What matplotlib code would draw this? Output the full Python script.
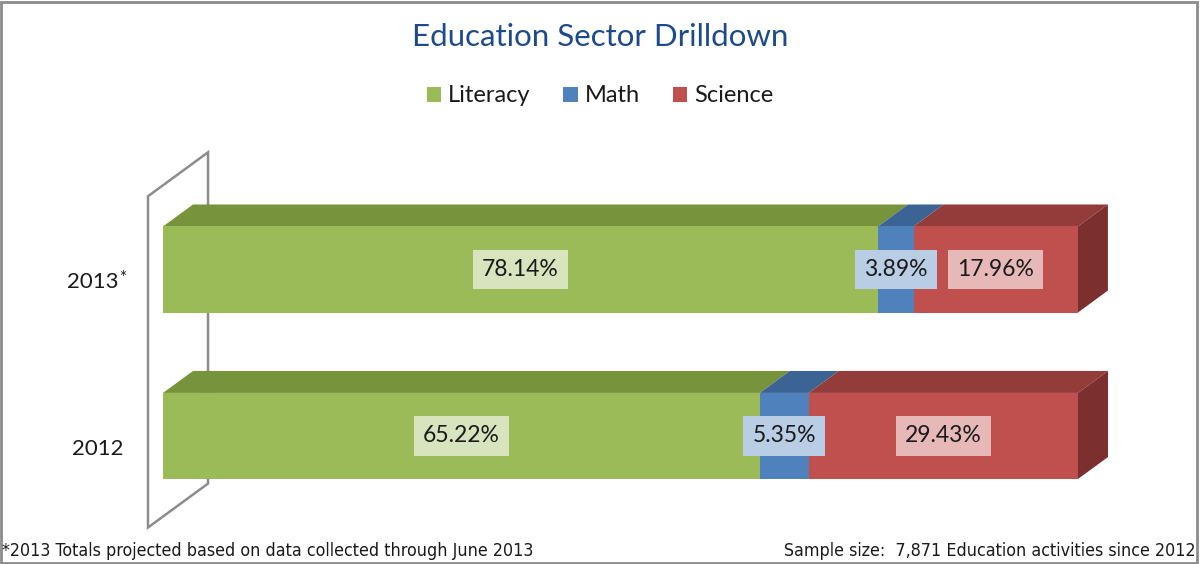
import matplotlib
matplotlib.use("Agg")
import matplotlib.pyplot as plt
from matplotlib.patches import Polygon, Rectangle
import numpy as np

plt.rcParams["font.family"] = ["Lato", "DejaVu Sans"]

# data
years = ["2012", "2013"]
subjects = ["Literacy", "Math", "Science"]
literacy = [65.22, 78.14]
math = [5.35, 3.89]
science = [29.43, 17.96]

front_cols = ["#9bbb59", "#4f81bd", "#c0504d"]
top_cols = ["#77933c", "#3b6494", "#943c3a"]
side_col = "#7b302f"
label_bg = ["#d7e4bd", "#b9cde5", "#e6b9b8"]

fig = plt.figure(figsize=(12, 5.64), dpi=100)
W, H = 1200, 564

# axes placed so 0% -> px 163, 100% -> px 1078
ax = fig.add_axes([163 / W, (H - 540) / H, 915 / W, (540 - 130) / H])
ax.set_xlim(0, 100)
ax.set_ylim(-0.625, 1.838)
ax.axis("off")

h = 0.517     # bar height (category units)
dx = 3.28     # depth offset in x (percent)
dy = 0.132    # depth offset in y

# back wall
wall_x0 = -dx / 2
wall_y0, wall_y1 = -0.55, 1.44
wall = Polygon([(wall_x0, wall_y0), (wall_x0 + 2 * dx, wall_y0 + 2 * dy),
                (wall_x0 + 2 * dx, wall_y1 + 2 * dy), (wall_x0, wall_y1)],
               closed=True, facecolor="white", edgecolor="#8c8c8c", lw=1.8,
               zorder=1, clip_on=False)
ax.add_patch(wall)

ypos = np.arange(len(years))
series = [literacy, math, science]
left = np.zeros(len(years))
for k, vals in enumerate(series):
    vals = np.array(vals)
    ax.barh(ypos, vals, left=left, height=h, color=front_cols[k],
            label=subjects[k], zorder=3)
    for i, y in enumerate(ypos):
        x0, x1 = left[i], left[i] + vals[i]
        yt = y + h / 2
        top = Polygon([(x0, yt), (x1, yt), (x1 + dx, yt + dy), (x0 + dx, yt + dy)],
                      closed=True, facecolor=top_cols[k], edgecolor="none", zorder=2,
                      clip_on=False)
        ax.add_patch(top)
        ax.text((x0 + x1) / 2, y, f"{vals[i]:.2f}%", ha="center", va="center",
                fontsize=16.5, color="#1a1a1a", zorder=5,
                bbox=dict(boxstyle="square,pad=0.4", facecolor=label_bg[k],
                          edgecolor="none"))
    left = left + vals

# right side faces
for i, y in enumerate(ypos):
    x1 = left[i]
    yb, yt = y - h / 2, y + h / 2
    side = Polygon([(x1, yb), (x1, yt), (x1 + dx, yt + dy), (x1 + dx, yb + dy)],
                   closed=True, facecolor=side_col, edgecolor="none", zorder=2,
                   clip_on=False)
    ax.add_patch(side)

# category labels
for i, y in enumerate(ypos):
    ax.text(-4.3 if years[i] == "2012" else -4.9, y - 0.078, years[i], ha="right",
            va="center", fontsize=16, color="#1a1a1a", clip_on=False)
    if years[i] == "2013":
        ax.text(-4.85, y - 0.05, "*", ha="left", va="center", fontsize=12,
                color="#1a1a1a", clip_on=False)

fig.text(0.5, 1 - 37 / H, "Education Sector Drilldown", ha="center", va="center",
         fontsize=22.5, color="#1c4a8a")

fig.legend(loc="center", bbox_to_anchor=(0.5, 1 - 96 / H), ncol=3, frameon=False,
           fontsize=17, handlelength=0.6, handleheight=0.6, handletextpad=0.3,
           columnspacing=1.4, labelcolor="#1a1a1a")

fig.text(2 / W, 1 - 551 / H, "*2013 Totals projected based on data collected through June 2013",
         ha="left", va="center", fontsize=12.8, family="DejaVu Sans",
         fontstretch="condensed", color="#1a1a1a")
fig.text(1196 / W, 1 - 551 / H, "Sample size:  7,871 Education activities since 2012",
         ha="right", va="center", fontsize=12.8, family="DejaVu Sans",
         fontstretch="condensed", color="#1a1a1a")

fig.patches.append(Rectangle((1 / W, 1 / H), 1196 / W, 561 / H, transform=fig.transFigure,
                             fill=False, edgecolor="#8c8c8c", lw=2))

fig.savefig("out.png", dpi=100)
